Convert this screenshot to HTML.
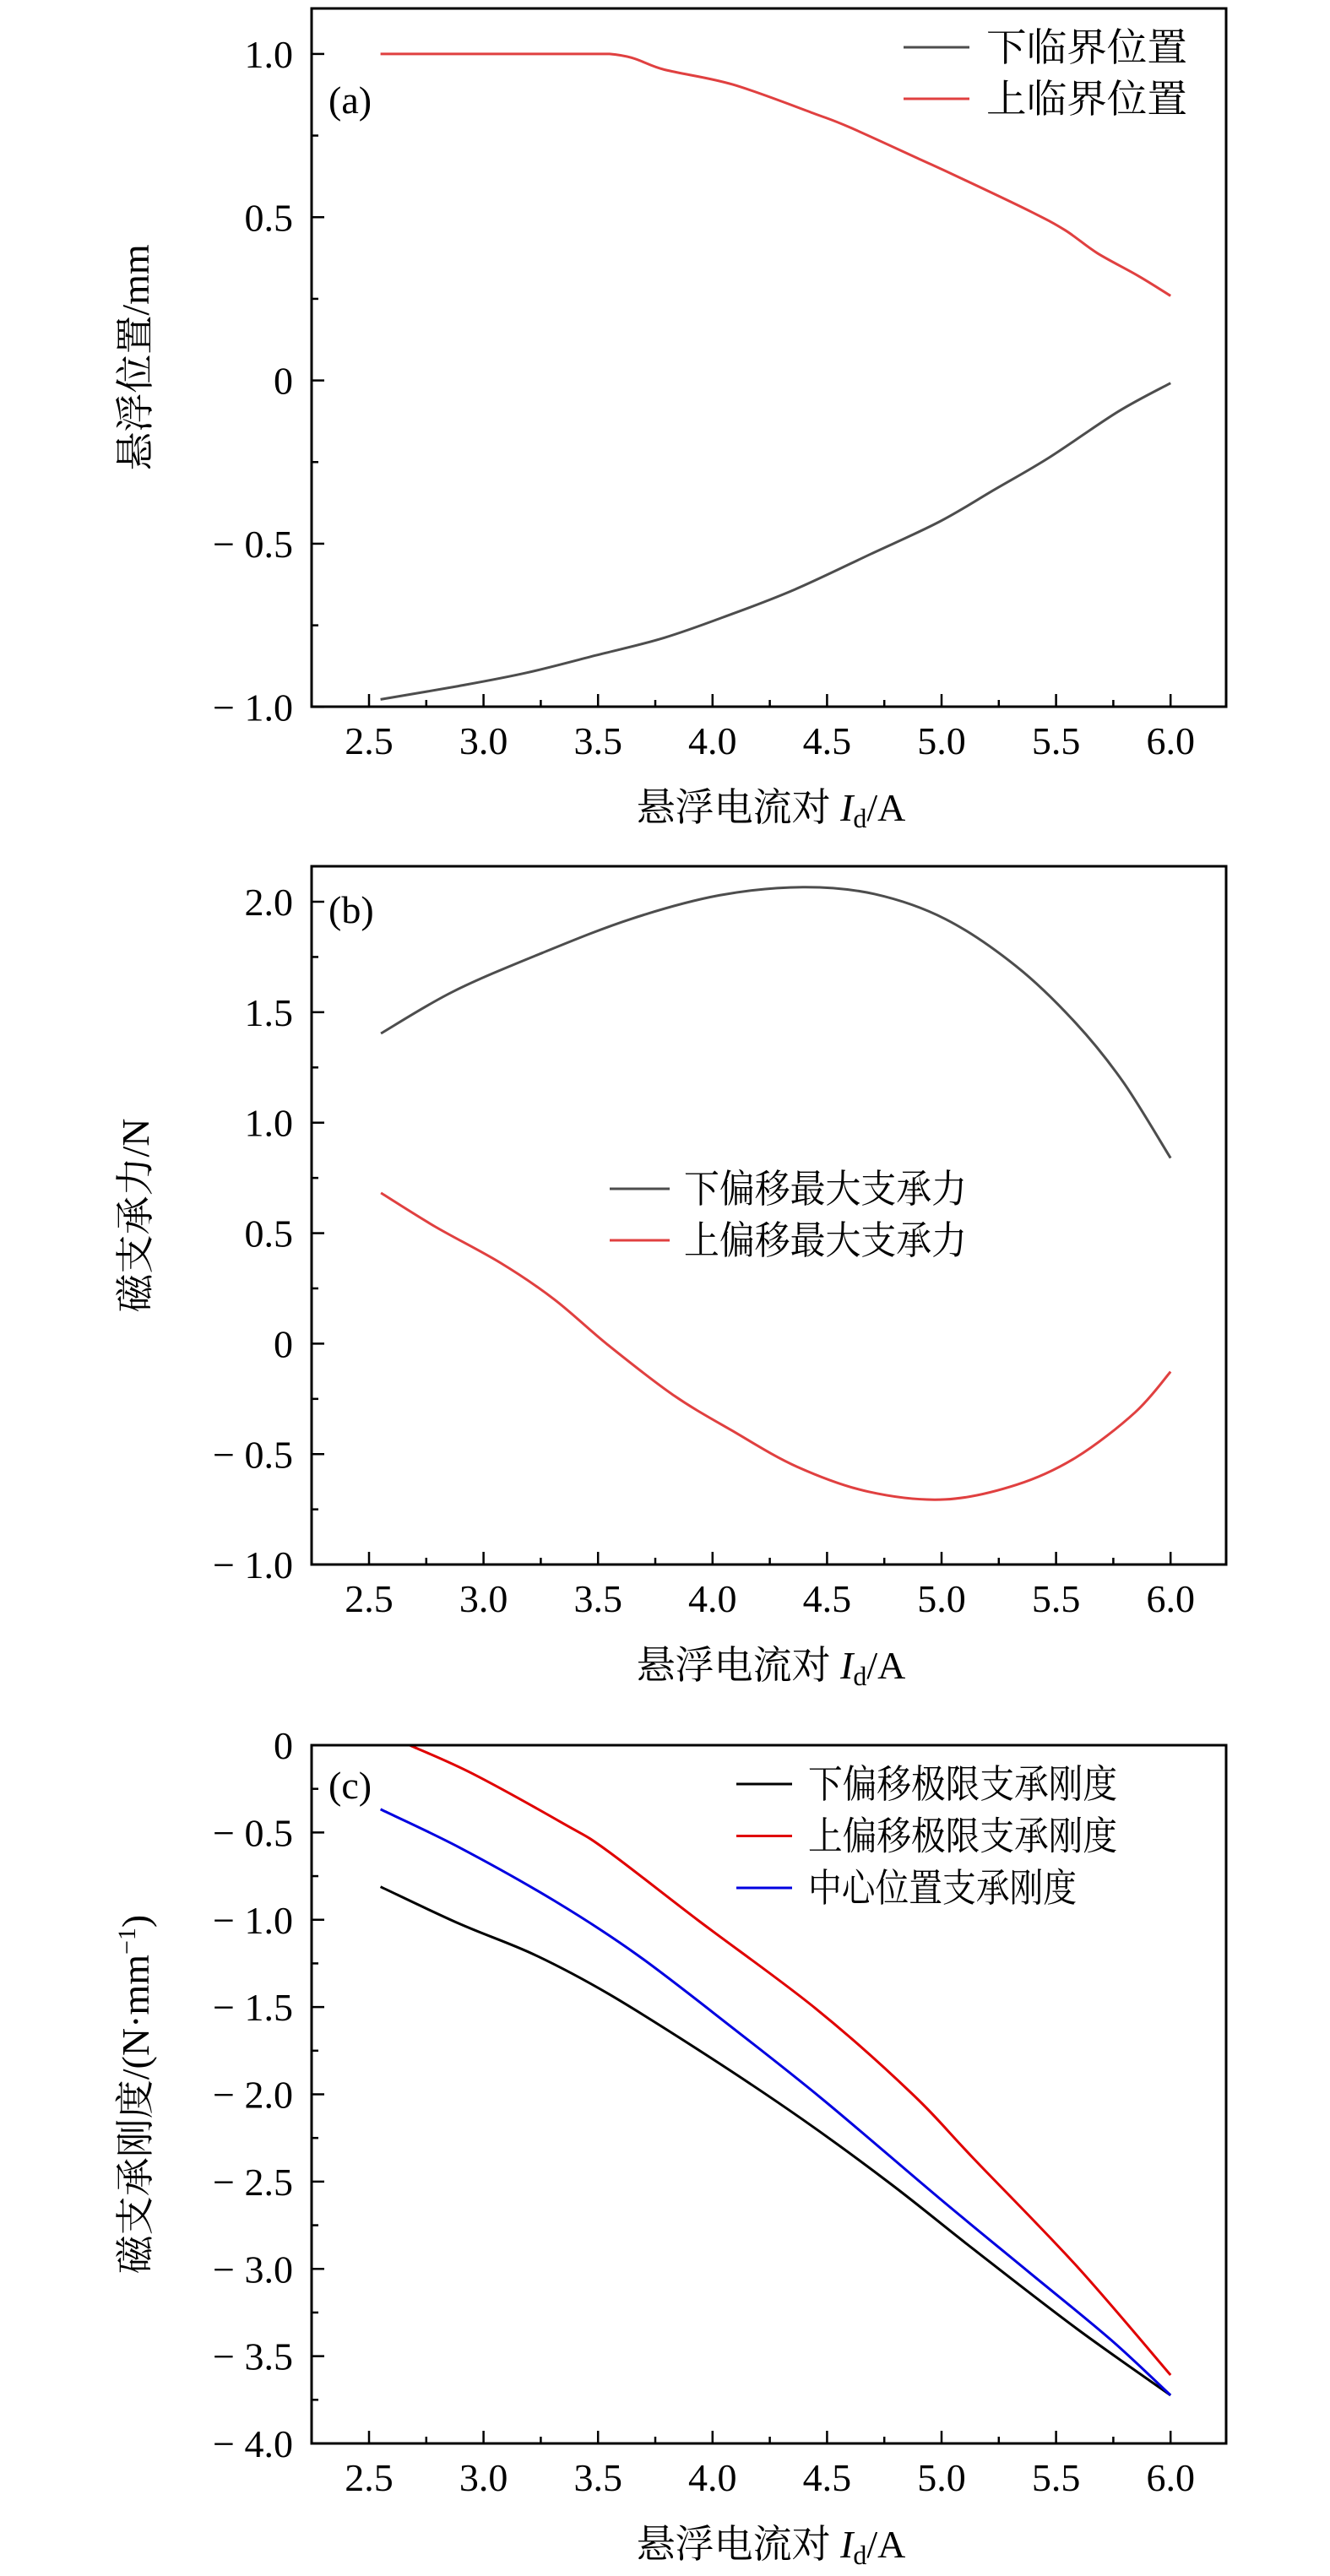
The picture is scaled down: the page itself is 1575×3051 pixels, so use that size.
<!DOCTYPE html>
<html><head><meta charset="utf-8"><style>
html,body{margin:0;padding:0;background:#fff;}
svg{display:block;}
.tk{font-family:"Liberation Serif","Noto Serif CJK SC",serif;font-size:46px;fill:#000;}
.cj{font-family:"Liberation Serif","Noto Serif CJK SC",serif;font-size:46px;fill:#000;}
</style></head><body>
<svg id="fig" xmlns="http://www.w3.org/2000/svg" width="1575" height="3051" viewBox="0 0 1575 3051"></svg>
<script>
// ---- Panel (a) data ----
const aLowerX = [2.55,2.89,3.19,3.49,3.79,4.09,4.36,4.69,4.99,5.23,5.47,5.77,6.0];
const aLowerY = [-0.977,-0.936,-0.895,-0.842,-0.788,-0.714,-0.640,-0.532,-0.433,-0.335,-0.236,-0.096,-0.008];
const aUpperX = [2.55,3.0,3.55,3.79,4.09,4.45,4.60,4.91,5.08,5.39,5.54,5.68,5.86,6.0];
const aUpperY = [1.0,1.0,1.0,0.952,0.906,0.816,0.775,0.676,0.621,0.517,0.460,0.390,0.320,0.259];
const aYTicks = [1.0,0.5,0,-0.5,-1.0];
const aYLabels = ["1.0","0.5","0","− 0.5","− 1.0"];
// ---- Panel (b) data ----
const bLowerX = [2.552,2.868,3.256,3.644,4.03,4.395,4.706,5.016,5.327,5.586,5.793,6.0];
const bLowerY = [1.404,1.594,1.768,1.922,2.029,2.066,2.035,1.922,1.707,1.451,1.184,0.840];
const bUpperX = [2.552,2.79,3.075,3.308,3.541,3.825,4.084,4.369,4.68,5.016,5.327,5.586,5.845,6.0];
const bUpperY = [0.682,0.529,0.365,0.201,-0.004,-0.230,-0.393,-0.557,-0.670,-0.705,-0.639,-0.516,-0.311,-0.127];
const bYTicks = [2.0,1.5,1.0,0.5,0,-0.5,-1.0];
const bYLabels = ["2.0","1.5","1.0","0.5","0","− 0.5","− 1.0"];
// ---- Panel (c) data ----
const cLowerX = [2.55,2.893,3.222,3.55,3.985,4.39,4.78,5.14,5.59,6.0];
const cLowerY = [-0.811,-1.022,-1.200,-1.428,-1.785,-2.141,-2.515,-2.888,-3.342,-3.724];
const cUpperX = [2.677,2.952,3.357,3.536,3.94,4.45,4.87,5.14,5.59,6.0];
const cUpperY = [0,-0.163,-0.455,-0.600,-1.006,-1.508,-1.995,-2.368,-2.984,-3.608];
const cCenterX = [2.55,2.893,3.31,3.67,4.09,4.48,4.99,5.38,5.74,6.0];
const cCenterY = [-0.367,-0.585,-0.892,-1.200,-1.622,-2.028,-2.595,-3.017,-3.407,-3.724];
const cYTicks = [0,-0.5,-1.0,-1.5,-2.0,-2.5,-3.0,-3.5,-4.0];
const cYLabels = ["0","− 0.5","− 1.0","− 1.5","− 2.0","− 2.5","− 3.0","− 3.5","− 4.0"];
// shared x axis
const xTicks = [2.5,3.0,3.5,4.0,4.5,5.0,5.5,6.0];
const xLabels = ["2.5","3.0","3.5","4.0","4.5","5.0","5.5","6.0"];

const NS = "http://www.w3.org/2000/svg";
const svg = document.getElementById('fig');
function mk(tag, attrs, parent){ const e=document.createElementNS(NS,tag); for(const k in attrs) e.setAttribute(k,attrs[k]); (parent||svg).appendChild(e); return e; }

function smoothPath(P){
  let d='M'+P[0][0].toFixed(1)+','+P[0][1].toFixed(1);
  const k=1/6;
  for(let i=0;i<P.length-1;i++){
    const p0=P[Math.max(i-1,0)], p1=P[i], p2=P[i+1], p3=P[Math.min(i+2,P.length-1)];
    let c1y=p1[1]+(p2[1]-p0[1])*k, c2y=p2[1]-(p3[1]-p1[1])*k;
    if(Math.abs(p1[1]-p2[1])<0.01){c1y=p1[1];c2y=p2[1];}
    const c1x=p1[0]+(p2[0]-p0[0])*k, c2x=p2[0]-(p3[0]-p1[0])*k;
    d+=' C'+c1x.toFixed(1)+','+c1y.toFixed(1)+' '+c2x.toFixed(1)+','+c2y.toFixed(1)+' '+p2[0].toFixed(1)+','+p2[1].toFixed(1);
  }
  return d;
}

function panel(cfg){
  const g = mk('g',{});
  
  
  const L=369, R=1452, T=cfg.top, B=cfg.bottom;
  const xs = v => 437 + (v-2.5)*271.2;
  const ys = v => cfg.y0px + (cfg.y0 - v)*cfg.unit;
  cfg.series.forEach(s=>{
    const P = s.x.map((xv,i)=>[xs(xv), ys(s.y[i])]);
    const pl = mk('path',{d:smoothPath(P),fill:'none',stroke:s.color,'stroke-width':3,'stroke-linejoin':'round'},g);
    
    
  });
  const fr = mk('rect',{x:L,y:T,width:R-L,height:B-T,fill:'none',stroke:'#000','stroke-width':3},g);
  
  
  xTicks.forEach((v,i)=>{
    const x=xs(v);
    mk('line',{x1:x,y1:B,x2:x,y2:B-15,stroke:'#000','stroke-width':2.5},g);
    if(i<xTicks.length-1){ const xm=xs(v+0.25); mk('line',{x1:xm,y1:B,x2:xm,y2:B-8,stroke:'#000','stroke-width':2.5},g); }
    const t=mk('text',{x:x,y:B+56,'text-anchor':'middle',class:'tk'},g);
    t.textContent=xLabels[i];
    
    
  });
  cfg.yTicks.forEach((v,i)=>{
    const y=ys(v);
    mk('line',{x1:L,y1:y,x2:L+15,y2:y,stroke:'#000','stroke-width':2.5},g);
    if(i<cfg.yTicks.length-1){ const ym=ys(v-0.25); mk('line',{x1:L,y1:ym,x2:L+8,y2:ym,stroke:'#000','stroke-width':2.5},g); }
    const t=mk('text',{x:347,y:y+16,'text-anchor':'end',class:'tk'},g);
    t.textContent=cfg.yLabels[i];
    
    
  });
  const pl=mk('text',{x:389,y:cfg.labelY,class:'tk'},g);
  pl.textContent=cfg.label;
  
  
  const xt=mk('text',{x:913,y:cfg.xTitleY,'text-anchor':'middle',class:'cj'},g);
  xt.innerHTML='悬浮电流对 <tspan font-style="italic">I</tspan><tspan font-size="32" dy="8">d</tspan><tspan dy="-8">/A</tspan>';
  
  
  const cy=(T+B)/2;
  const yt=mk('text',{x:0,y:0,'text-anchor':'middle',class:'cj',transform:'translate(176,'+cy+') rotate(-90)'},g);
  yt.innerHTML=cfg.yTitle;
  
  
  cfg.legend.items.forEach((it,i)=>{
    const y=cfg.legend.y0 + i*cfg.legend.dy;
    const lg=mk('g',{},g);
    
    
    mk('line',{x1:cfg.legend.x1,y1:y,x2:cfg.legend.x2,y2:y,stroke:it.color,'stroke-width':3},lg);
    const t=mk('text',{x:cfg.legend.tx,y:y+16,class:'cj',textLength:it.w,lengthAdjust:'spacingAndGlyphs'},lg);
    t.textContent=it.text;
  });
}

const GRAY='#4d4d4d', RED1='#e04040';
panel({name:'panel-a-critical-position',top:10,bottom:837,y0:0,y0px:450.6,unit:386.7,
  yTicks:aYTicks,yLabels:aYLabels,label:'(a)',labelY:134,xTitleY:972,
  yTitle:'悬浮位置/mm',
  series:[{id:'series-lower-critical',x:aLowerX,y:aLowerY,color:GRAY},{id:'series-upper-critical',x:aUpperX,y:aUpperY,color:RED1}],
  legend:{x1:1070,x2:1148,tx:1168,y0:56,dy:61,items:[{text:'下临界位置',color:GRAY,w:238},{text:'上临界位置',color:RED1,w:238}]}});
panel({name:'panel-b-max-force',top:1026,bottom:1853,y0:2.0,y0px:1068,unit:261.7,
  yTicks:bYTicks,yLabels:bYLabels,label:'(b)',labelY:1093,xTitleY:1988,
  yTitle:'磁支承力/N',
  series:[{id:'series-lower-max-force',x:bLowerX,y:bLowerY,color:GRAY},{id:'series-upper-max-force',x:bUpperX,y:bUpperY,color:RED1}],
  legend:{x1:722,x2:793,tx:810,y0:1408,dy:61,items:[{text:'下偏移最大支承力',color:GRAY,w:335},{text:'上偏移最大支承力',color:RED1,w:335}]}});
panel({name:'panel-c-stiffness',top:2067,bottom:2894,y0:0,y0px:2067,unit:206.75,
  yTicks:cYTicks,yLabels:cYLabels,label:'(c)',labelY:2130,xTitleY:3029,
  yTitle:'磁支承刚度/(N·mm<tspan font-size="30" dy="-16">−1</tspan><tspan dy="16">)</tspan>',
  series:[{id:'series-lower-stiffness',x:cLowerX,y:cLowerY,color:'#000'},{id:'series-upper-stiffness',x:cUpperX,y:cUpperY,color:'#e00000'},{id:'series-center-stiffness',x:cCenterX,y:cCenterY,color:'#0000e0'}],
  legend:{x1:872,x2:938,tx:957,y0:2113,dy:61.5,items:[{text:'下偏移极限支承刚度',color:'#000',w:366},{text:'上偏移极限支承刚度',color:'#e00000',w:366},{text:'中心位置支承刚度',color:'#0000e0',w:318}]}});
</script>
</body></html>
